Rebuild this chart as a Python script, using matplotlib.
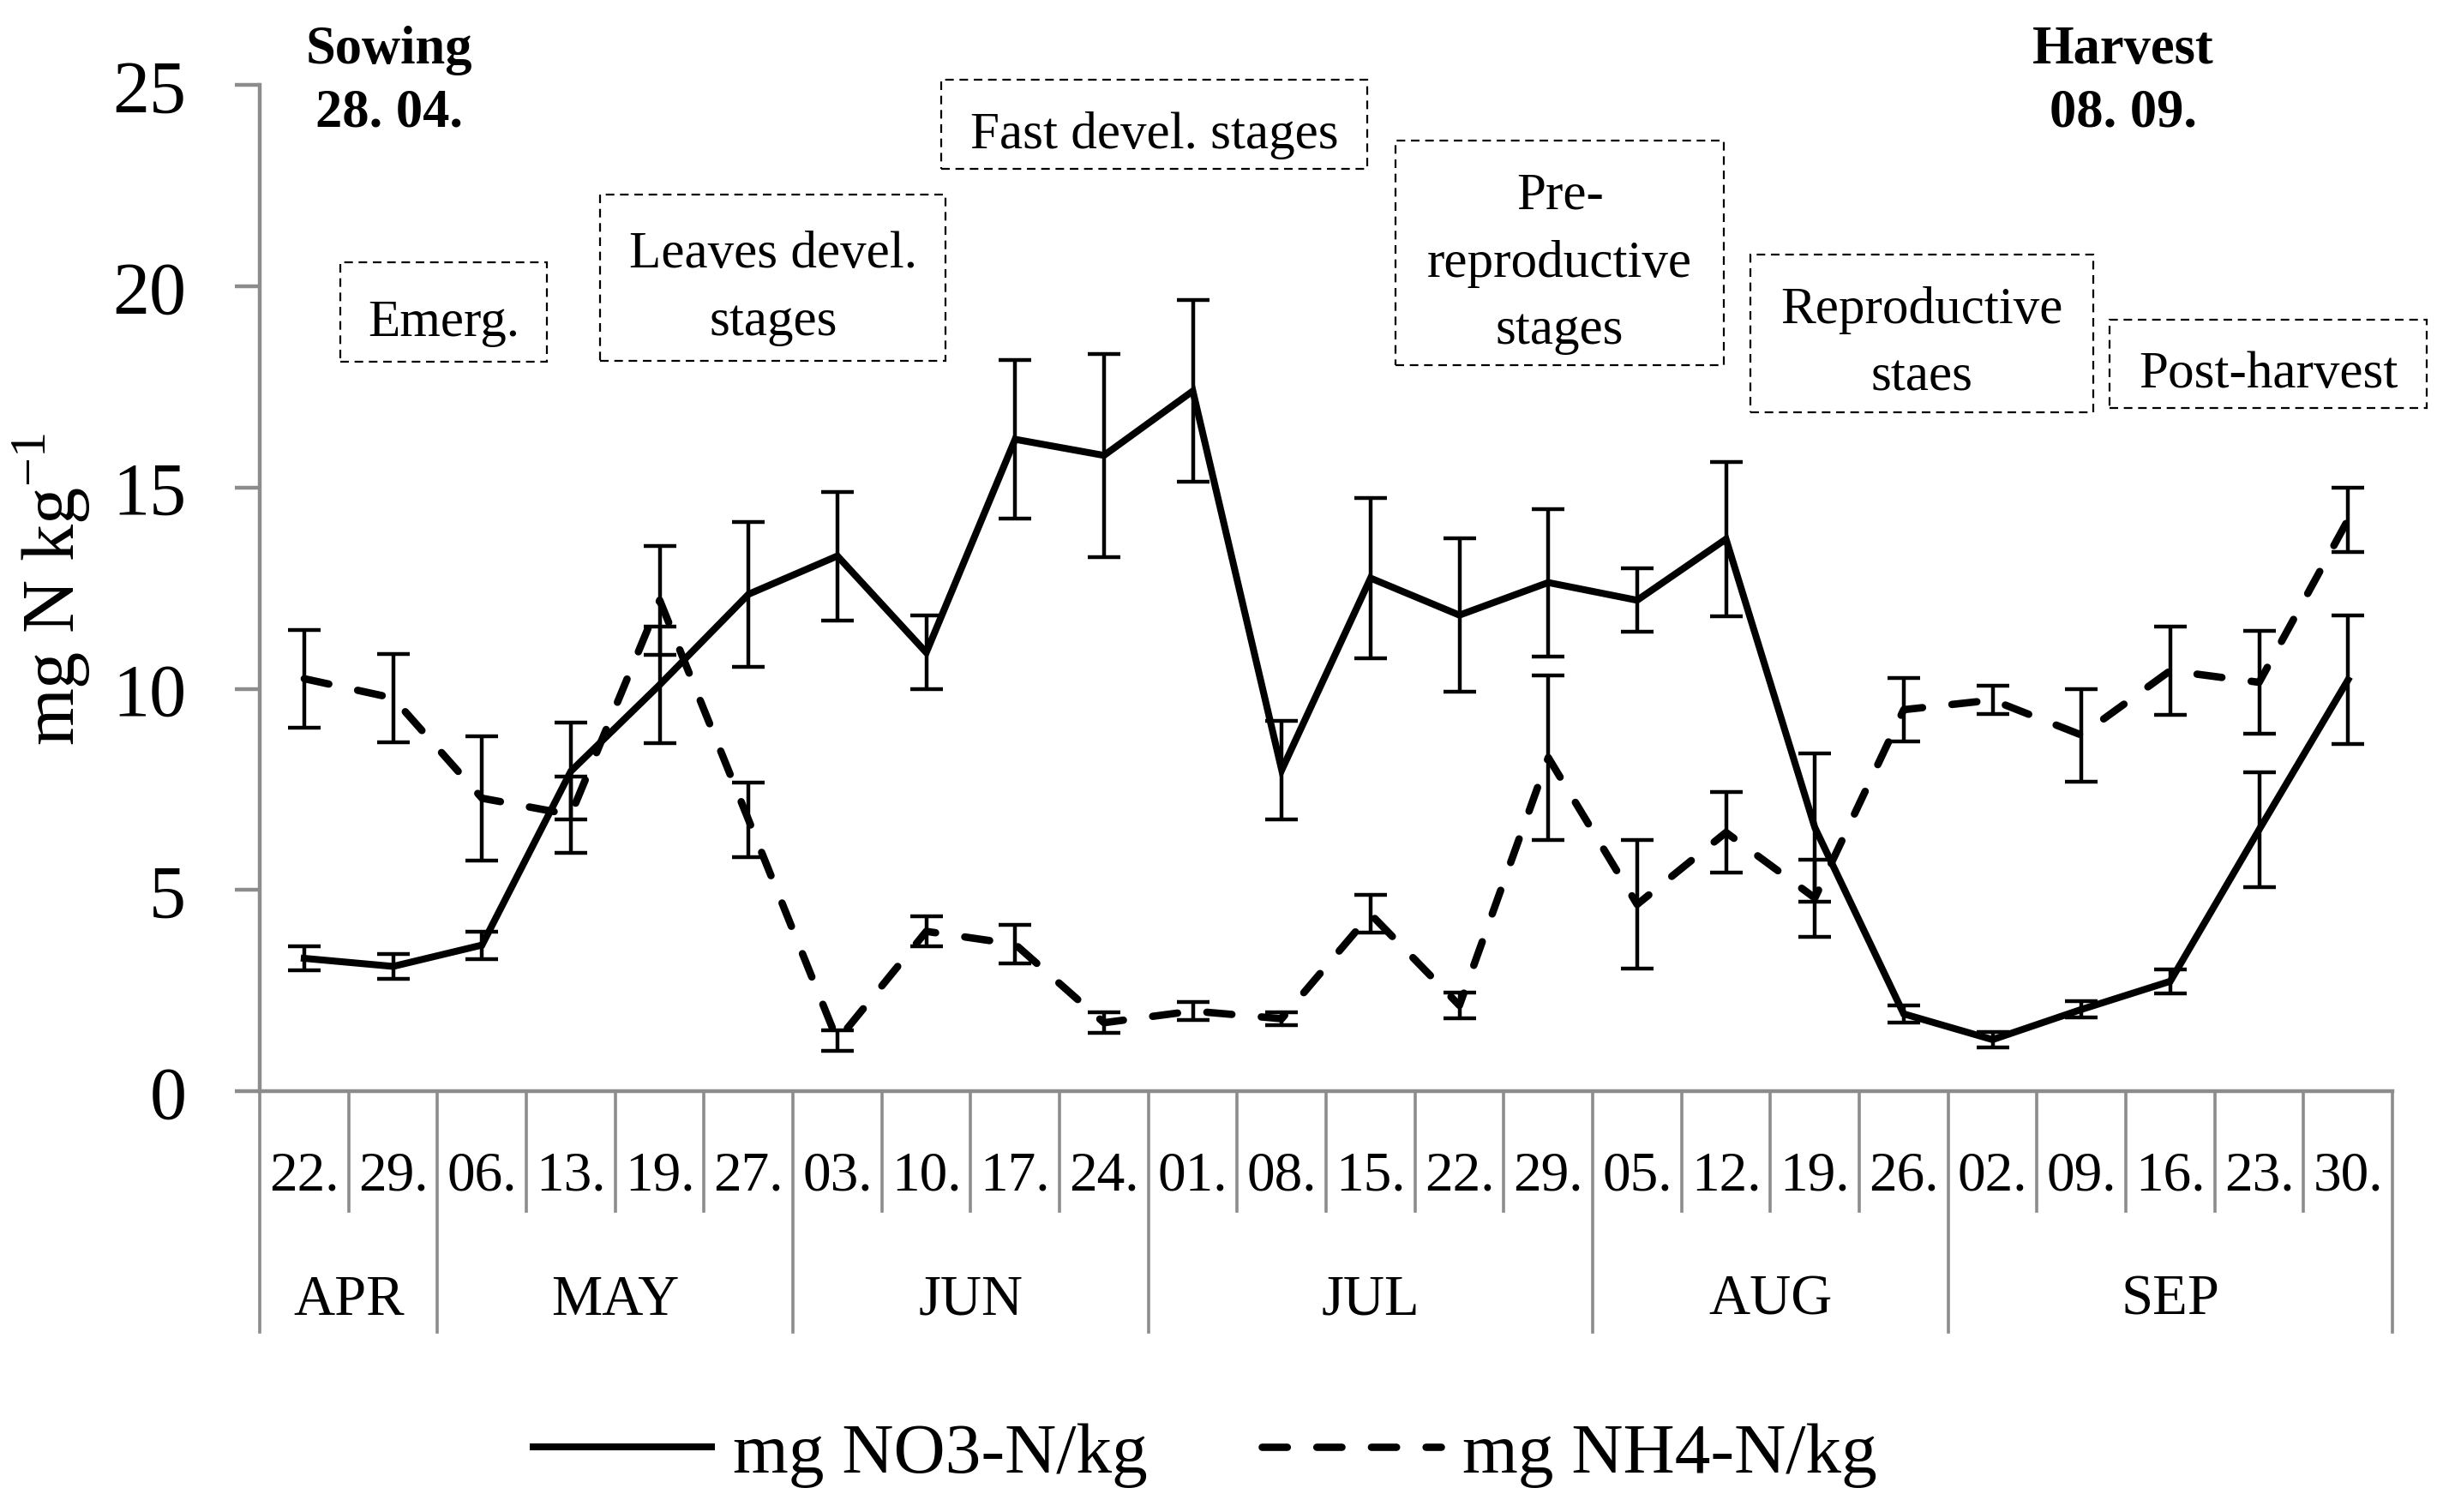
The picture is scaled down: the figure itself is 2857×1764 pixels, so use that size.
import matplotlib.pyplot as plt
import numpy as np
from matplotlib.patches import Rectangle

plt.rcParams["font.family"] = ["Liberation Serif", "DejaVu Serif"]
plt.rcParams["mathtext.fontset"] = "custom"
plt.rcParams["mathtext.rm"] = "Liberation Serif"

# sampling dates (day of month) and the months they belong to
dates = ["22.", "29.", "06.", "13.", "19.", "27.", "03.", "10.", "17.", "24.",
         "01.", "08.", "15.", "22.", "29.", "05.", "12.", "19.", "26.",
         "02.", "09.", "16.", "23.", "30."]
months = ["APR", "MAY", "JUN", "JUL", "AUG", "SEP"]
month_sizes = [2, 4, 4, 5, 4, 5]

# mg N per kg soil, mean and error
no3 = [3.3, 3.1, 3.63, 7.95, 10.1, 12.35, 13.3, 10.9, 16.2, 15.8, 17.4, 7.98,
       12.75, 11.83, 12.64, 12.2, 13.72, 6.55, 1.92, 1.28, 2.03, 2.73, 6.5, 10.22]
no3_err = [0.3, 0.3, 0.34, 1.2, 1.45, 1.8, 1.6, 0.92, 1.98, 2.53, 2.26, 1.22,
           2.0, 1.9, 1.83, 0.79, 1.91, 1.85, 0.21, 0.19, 0.2, 0.3, 1.42, 1.6]
nh4 = [10.25, 9.77, 7.28, 6.87, 12.2, 6.74, 1.26, 3.97, 3.65, 1.7, 1.99, 1.8,
       4.4, 2.13, 8.29, 4.64, 6.43, 4.8, 9.48, 9.72, 8.85, 10.45, 10.16, 14.2]
nh4_err = [1.22, 1.09, 1.54, 0.95, 1.35, 0.93, 0.26, 0.38, 0.48, 0.25, 0.23, 0.15,
           0.47, 0.32, 2.05, 1.6, 1.0, 0.96, 0.79, 0.35, 1.15, 1.1, 1.28, 0.8]

# growth stage boxes: text, x0, x1, y0, y1 (category / data units)
stages = [
    ("Emerg.", 0.41, 2.73, 18.12, 20.59),
    ("Leaves devel.\nstages", 3.33, 7.22, 18.16, 22.28),
    ("Fast devel. stages", 7.17, 11.96, 22.92, 25.14),
    ("Pre-\nreproductive\nstages", 12.28, 15.98, 18.05, 23.62),
    ("Reproductive\nstaes", 16.27, 20.13, 16.88, 20.79),
    ("Post-harvest", 20.32, 23.89, 16.97, 19.18),
]

GRAY = "#8c8c8c"
x = np.arange(len(dates))

fig, ax = plt.subplots(figsize=(14.285, 8.825), dpi=200)
fig.subplots_adjust(left=0.1061, right=0.9769, bottom=0.2782, top=0.9431)

err_kw = dict(fmt="none", ecolor="black", elinewidth=1.6, capsize=6.8, capthick=1.6)
ax.errorbar(x, no3, yerr=no3_err, **err_kw)
ax.errorbar(x, nh4, yerr=nh4_err, **err_kw)
l1, = ax.plot(x, no3, color="black", lw=2.9, label="mg NO3-N/kg",
              solid_joinstyle="miter")
l2, = ax.plot(x, nh4, color="black", lw=3.1, dashes=(3.4, 4.0),
              dash_capstyle="round", label="mg NH4-N/kg")

ax.set_xlim(-0.5, len(dates) - 0.5)
ax.set_ylim(0, 25)
ax.set_yticks([0, 5, 10, 15, 20, 25])

for side in ["top", "right"]:
    ax.spines[side].set_visible(False)
for side in ["left", "bottom"]:
    ax.spines[side].set_color(GRAY)
    ax.spines[side].set_linewidth(1.6)

ax.tick_params(axis="y", length=10.4, width=1.6, color=GRAY, pad=20.5, labelsize=31)
ax.set_xticks(x, labels=dates)
ax.tick_params(axis="x", length=0, pad=41.4, labelsize=23.5)
plt.setp(ax.get_xticklabels(), va="baseline")

ax.set_ylabel(r"mg N kg$^{\mathregular{-1}}$", fontsize=31)
ax.yaxis.set_label_coords(-0.0784, 0.5)

# category separators and month groups under the axis
trans = ax.get_xaxis_transform()
bounds = np.concatenate([[0], np.cumsum(month_sizes)])
for k in range(len(dates) + 1):
    depth = -0.2395 if k in bounds else -0.1193
    ax.plot([k - 0.5, k - 0.5], [0, depth], transform=trans, clip_on=False,
            color=GRAY, lw=1.3)
for i, m in enumerate(months):
    center = bounds[i] + (month_sizes[i] - 1) / 2
    ax.text(center, -0.2215, m, transform=trans, ha="center", va="baseline",
            fontsize=24)

for label, x0, x1, y0, y1 in stages:
    ax.add_patch(Rectangle((x0, y0), x1 - x0, y1 - y0, fill=False,
                           edgecolor="black", lw=0.8, linestyle=(0, (4.5, 3)),
                           clip_on=False))
    ax.text((x0 + x1) / 2, (y0 + y1) / 2 - 0.25, label, ha="center",
            va="center", fontsize=22, linespacing=1.54)

ax.text(0.956, 25.1, "Sowing\n28. 04.", ha="center", va="center",
        fontsize=22.5, fontweight="bold", linespacing=1.34)
ax.text(20.47, 25.1, "Harvest\n08. 09.", ha="center", va="center",
        fontsize=22.5, fontweight="bold", linespacing=1.34)

fig.legend(handles=[l1, l2], loc="center", bbox_to_anchor=(0.492, 0.038),
           ncol=2, frameon=False, fontsize=30, handlelength=2.5,
           handletextpad=0.3, columnspacing=1.6)

fig.savefig("out.png", dpi=200)
